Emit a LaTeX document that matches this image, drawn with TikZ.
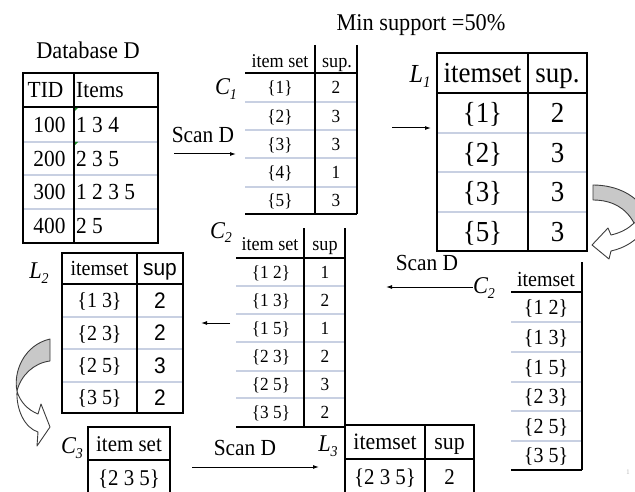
\documentclass[tikz,border=0pt]{standalone}
\usepackage{fontspec}
\setmainfont{Liberation Serif}[FakeStretch=0.93]
\setsansfont{Liberation Sans}[FakeStretch=0.93]
\usetikzlibrary{arrows.meta}

\definecolor{rowline}{RGB}{200,208,226}
\definecolor{bandgray}{RGB}{200,200,200}
\definecolor{bandedge}{RGB}{60,60,60}
\definecolor{cellmark}{RGB}{30,140,40}

\newcommand\fs[1]{\fontsize{#1}{#1}\selectfont}

\begin{document}
\begin{tikzpicture}[x=1pt,y=-1pt,
  cell/.style={inner sep=0pt,anchor=base,font=\fs{#1},yshift={-0.338pt*#1}},
  lcell/.style={cell=#1,anchor=base west},
  scell/.style={cell=#1,font=\fs{#1}\sffamily},
  frame/.style={draw=black,line width=1.1pt},
  head/.style={draw=black,line width=1.4pt},
  rule/.style={draw=black,line width=1.8pt},
  sep/.style={draw=rowline,line width=1.3pt},
  flow/.style={-{Latex[length=6pt,width=4pt]},line width=1pt},
  lbl/.style={inner sep=0pt,anchor=base,font=\fs{24}\itshape},
  band/.style={draw=bandedge,line width=0.9pt,line join=round}]
\useasboundingbox (0,0) rectangle (635,492);

% ---------- titles ----------
\node[cell=24] (title) at (88,50) {Database D};
\node[cell=24] (minsup) at (421,22) {Min support =50\%};

% ---------- database D ----------
\foreach \y in {142,175,209} \draw[sep] (23,\y) -- (158,\y);
\draw[frame] (23,73) rectangle (158,243);
\draw[frame] (74,73) -- (74,243);
\draw[head] (23,107) -- (158,107);
\fill[cellmark] (75,108) -- (78,108) -- (75,111) -- cycle;
\fill[cellmark] (75,142) -- (78,142) -- (75,145) -- cycle;
\node[cell=23] (dbtid) at (45.5,90) {TID};
\node[lcell=23] (dbitems) at (76,90) {Items};
\foreach \t/\it/\y [count=\i] in {100/1 3 4/124.5, 200/2 3 5/158.5, 300/1 2 3 5/192, 400/2 5/226}{
  \node[cell=23] (dbt\i) at (49.5,\y) {\t};
  \node[lcell=23] (dbi\i) at (76,\y) {\it};
}

% ---------- C1 ----------
\foreach \y in {102,130,158,187} \draw[sep] (245,\y) -- (357,\y);
\draw[frame] (315,45) -- (315,214);
\draw[frame] (357,45) -- (357,214);
\draw[rule] (245,73) -- (357,73);
\draw[rule] (245,214) -- (357,214);
\node[cell=19.5] (c1h1) at (280,61) {item set};
\node[cell=19.5] (c1h2) at (337,61) {sup.};
\foreach \s/\n/\y [count=\i] in {1/2/87.5, 2/3/116, 3/3/144, 4/1/172.5, 5/3/200.5}{
  \node[cell=18.5] (c1s\i) at (280,\y) {\{\s\}};
  \node[cell=18.5] (c1n\i) at (336,\y) {\n};
}
\node[lbl] (c1) at (226,95) {C\raisebox{-5pt}{\fs{15}1}};

% ---------- L1 ----------
\foreach \y in {133,172,212} \draw[sep] (437,\y) -- (587,\y);
\draw[frame] (437,53) rectangle (587,251);
\draw[frame] (528,53) -- (528,251);
\draw[head] (437,93) -- (587,93);
\node[cell=29] (l1h1) at (482.5,73) {itemset};
\node[cell=29] (l1h2) at (557.5,73) {sup.};
\foreach \s/\n/\y [count=\i] in {1/2/113, 2/3/152.5, 3/3/192, 5/3/231.5}{
  \node[cell=29] (l1s\i) at (482.5,\y) {\{\s\}};
  \node[cell=29] (l1n\i) at (557.5,\y) {\n};
}
\node[lbl,font=\fs{26}\itshape] (l1) at (420,83) {L\raisebox{-5pt}{\fs{16}1}};

% ---------- C2 (candidates, right) ----------
\foreach \y in {322,352,382,411,441} \draw[sep] (511,\y) -- (582,\y);
\draw[frame] (582,262) -- (582,470);
\draw[rule] (511,292) -- (582,292);
\draw[rule] (511,470) -- (582,470);
\node[cell=21.5] (c2rh) at (546,279) {itemset};
\foreach \s/\y [count=\i] in {1 2/307, 1 3/337, 1 5/367, 2 3/396.5, 2 5/426, 3 5/455.5}{
  \node[cell=21.5] (c2rs\i) at (546,\y) {\{\s\}};
}
\node[lbl] (c2r) at (484,293) {C\raisebox{-5pt}{\fs{15}2}};

% ---------- C2 (counted, middle) ----------
\foreach \y in {286,314,342,371,398} \draw[sep] (236,\y) -- (345,\y);
\draw[frame] (304,228) -- (304,427);
\draw[frame] (345,228) -- (345,427);
\draw[rule] (236,258) -- (345,258);
\draw[rule] (236,427) -- (345,427);
\node[cell=19.5] (c2mh1) at (270,244) {item set};
\node[cell=19.5] (c2mh2) at (325,244) {sup};
\foreach \s/\n/\y [count=\i] in {1 2/1/272, 1 3/2/300, 1 5/1/328, 2 3/2/356.5, 2 5/3/384.5, 3 5/2/412.5}{
  \node[cell=18.5] (c2ms\i) at (271,\y) {\{\s\}};
  \node[cell=18.5] (c2mn\i) at (325,\y) {\n};
}
\node[lbl] (c2m) at (221,238) {C\raisebox{-5pt}{\fs{15}2}};

% ---------- L2 ----------
\foreach \y in {317,349,382} \draw[sep] (62,\y) -- (183,\y);
\draw[frame] (62,253) rectangle (183,413);
\draw[frame] (137,253) -- (137,413);
\draw[head] (62,284) -- (183,284);
\node[cell=21.5] (l2h1) at (99.5,268) {itemset};
\node[scell=22.5] (l2h2) at (160,268) {sup};
\foreach \s/\n/\y [count=\i] in {1 3/2/300.5, 2 3/2/333, 2 5/3/365.5, 3 5/2/397.5}{
  \node[cell=21.5] (l2s\i) at (99.5,\y) {\{\s\}};
  \node[scell=22.5] (l2n\i) at (160,\y) {\n};
}
\node[lbl] (l2) at (39,278) {L\raisebox{-5pt}{\fs{15}2}};

% ---------- C3 ----------
\draw[frame] (88,492) -- (88,427) -- (170,427) -- (170,492);
\draw[head] (88,460) -- (170,460);
\node[cell=22.5] (c3h) at (129,443.5) {item set};
\node[cell=22.5] (c3s1) at (129,478) {\{2 3 5\}};
\node[lbl] (c3) at (72,453) {C\raisebox{-5pt}{\fs{15}3}};

% ---------- L3 ----------
\draw[frame] (345,492) -- (345,425) -- (474,425) -- (474,492);
\draw[frame] (425,425) -- (425,492);
\draw[head] (345,459) -- (474,459);
\node[cell=23.5] (l3h1) at (385,442) {itemset};
\node[cell=23.5] (l3h2) at (449.5,442) {sup};
\node[cell=22.5] (l3s1) at (385,477) {\{2 3 5\}};
\node[cell=22.5] (l3n1) at (449.5,477) {2};
\node[lbl] (l3) at (328,451) {L\raisebox{-5pt}{\fs{15}3}};

% ---------- scan arrows ----------
\node[cell=23] (scan1) at (203,135) {Scan D};
\coordinate (a1s) at (174,154); \coordinate (a1e) at (236,154);
\draw[flow] (a1s) -- (a1e);

\coordinate (a2s) at (392,128); \coordinate (a2e) at (431,128);
\draw[flow] (a2s) -- (a2e);

\node[cell=23] (scan2) at (427,263) {Scan D};
\coordinate (a3e) at (386,287);
\draw[flow] (c2r.west |- 0,287) -- (a3e);

\coordinate (a4s) at (230,323); \coordinate (a4e) at (201,323);
\draw[flow] (a4s) -- (a4e);

\node[cell=23] (scan3) at (245,448) {Scan D};
\coordinate (a5s) at (192,467); \coordinate (a5e) at (319,467);
\draw[flow] (a5s) -- (a5e);

% ---------- curved block arrows ----------
\begin{scope}
\clip (0,0) rectangle (635,492);
% right: L1 back into candidate generation
\draw[band,fill=bandgray] (593,185) .. controls (617,185) and (638,196) .. (645,212)
  -- (645,222) -- (634,223) .. controls (626,208) and (612,200) .. (593,200) -- cycle;
\draw[band,fill=white] (634,223) .. controls (628,229) and (620,233) .. (611,235)
  -- (608,228) -- (592,245) -- (609,259) -- (611,251)
  .. controls (625,248) and (638,240) .. (645,228) -- (645,222) -- cycle;
% left: L2 down to C3
\draw[band,fill=bandgray] (50,339) -- (50,361) .. controls (34,363) and (21,375) .. (17,391)
  .. controls (13,372) and (24,345) .. (50,339) -- cycle;
\draw[band,fill=white] (17,391) .. controls (16,410) and (25,428) .. (38,432)
  -- (37,446) -- (50,427) -- (41,404) -- (38,414)
  .. controls (28,410) and (20,402) .. (17,391) -- cycle;
\end{scope}

% page number
\node[cell=7,text=black!30] (pageno) at (628,472) {1};
\end{tikzpicture}
\end{document}
